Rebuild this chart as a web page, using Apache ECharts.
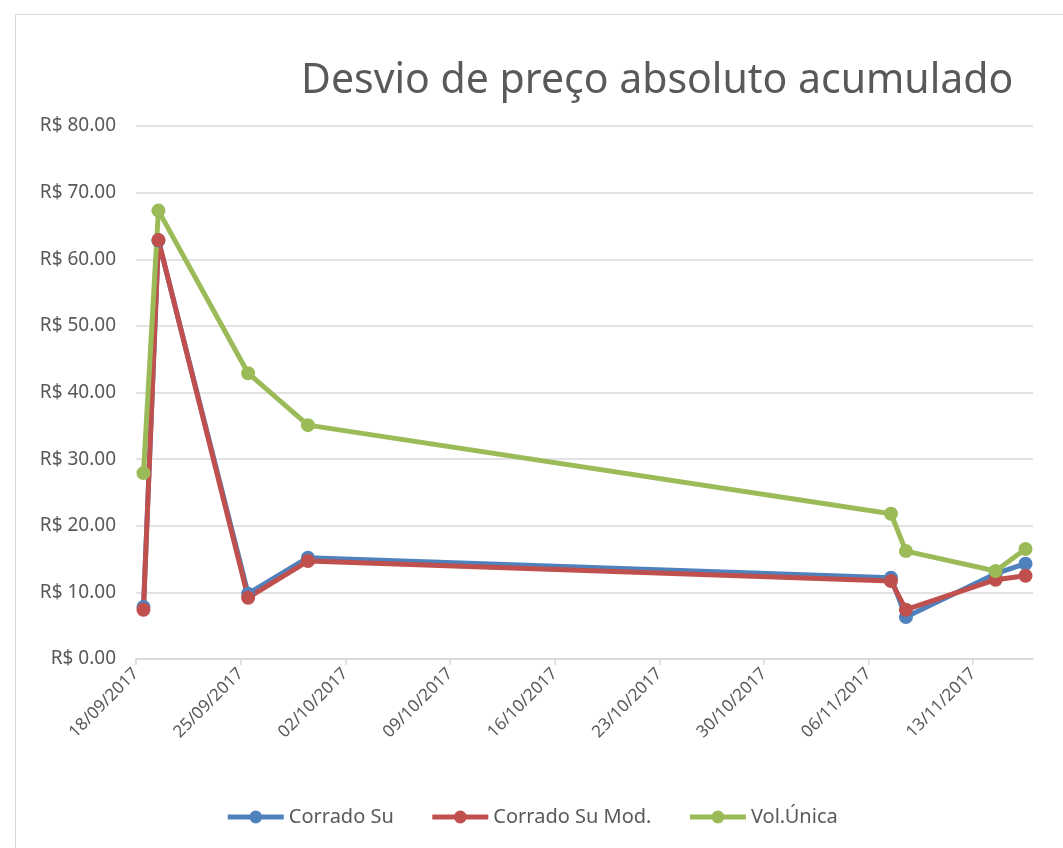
<!DOCTYPE html>
<html>
<head>
<meta charset="utf-8">
<script src="https://cdn.jsdelivr.net/npm/echarts@6/dist/echarts.min.js"></script>
<style>
  html, body { margin: 0; padding: 0; background: #fff; }
  #chart { width: 1063px; height: 848px; }
</style>
</head>
<body>
<div id="chart"></div>
<script>
// datas dos pontos (eixo de datas, um ponto por dia)
const dates = ['2017-09-18', '2017-09-19', '2017-09-25', '2017-09-29',
               '2017-11-07', '2017-11-08', '2017-11-14', '2017-11-16'];
const corradoSu = [7.8, 62.8, 9.8, 15.2, 12.2, 6.3, 12.8, 14.3];
const corradoSuMod = [7.4, 62.9, 9.2, 14.7, 11.7, 7.4, 11.9, 12.5];
const volUnica = [27.9, 67.3, 42.9, 35.1, 21.8, 16.2, 13.2, 16.5];
const tickDays = [0, 7, 14, 21, 28, 35, 42, 49, 56];

const baseDate = Date.UTC(2017, 8, 18);
const DAY = 86400000;

function dayIndex(s) {
    const p = s.split('-');
    return Math.round((Date.UTC(+p[0], +p[1] - 1, +p[2]) - baseDate) / DAY);
}
function dayLabel(v) {
    const d = new Date(baseDate + v * DAY);
    const dd = String(d.getUTCDate()).padStart(2, '0');
    const mm = String(d.getUTCMonth() + 1).padStart(2, '0');
    return dd + '/' + mm + '/' + d.getUTCFullYear();
}
// o Excel coloca cada ponto no meio do dia
function toPoints(values) {
    return values.map(function (v, i) {
        return [dayIndex(dates[i]) + 0.5, v];
    });
}

const chart = echarts.init(document.getElementById('chart'));
const font = 'Noto Sans';
const textColor = '#595959';

function lineSeries(name, color, values) {
    return {
        name: name,
        type: 'line',
        data: toPoints(values),
        symbol: 'circle',
        symbolSize: 14,
        color: color,
        lineStyle: { width: 5, color: color },
        itemStyle: { color: color }
    };
}

const option = {
    animation: false,
    title: {
        text: 'Desvio de preço absoluto acumulado',
        left: 296,
        top: 56,
        textStyle: { fontFamily: font, fontSize: 41, fontWeight: 'normal', color: textColor }
    },
    graphic: [{
        type: 'rect',
        shape: { x: 15.5, y: 14.5, width: 1200, height: 1000 },
        style: { fill: null, stroke: '#d9d9d9', lineWidth: 1 },
        silent: true
    }],
    legend: {
        bottom: 16,
        left: 'center',
        itemWidth: 56,
        itemHeight: 16,
        itemGap: 36,
        lineStyle: { width: 5 },
        textStyle: { fontFamily: font, fontSize: 20, color: textColor },
        data: ['Corrado Su', 'Corrado Su Mod.', 'Vol.Única']
    },
    grid: { left: 136, right: 30, top: 126, bottom: 189, containLabel: false },
    xAxis: {
        type: 'value',
        min: 0,
        max: 60,
        interval: 7,
        axisLine: { show: true, lineStyle: { color: '#d9d9d9', width: 1.5 } },
        axisTick: { show: true, length: 6, customValues: tickDays, lineStyle: { color: '#d9d9d9', width: 1.5 } },
        splitLine: { show: false },
        axisLabel: {
            customValues: tickDays,
            rotate: 45,
            margin: 12,
            fontFamily: font,
            fontSize: 17,
            color: textColor,
            formatter: function (v) { return dayLabel(v); }
        }
    },
    yAxis: {
        type: 'value',
        min: 0,
        max: 80,
        interval: 10,
        axisLine: { show: false },
        axisTick: { show: false },
        splitLine: { lineStyle: { color: '#d9d9d9', width: 1.5 } },
        axisLabel: {
            margin: 20,
            fontFamily: font,
            fontSize: 19,
            color: textColor,
            formatter: function (v) { return 'R$ ' + v.toFixed(2); }
        }
    },
    series: [
        lineSeries('Corrado Su', '#4f81bd', corradoSu),
        lineSeries('Corrado Su Mod.', '#c0504d', corradoSuMod),
        lineSeries('Vol.Única', '#9bbb59', volUnica)
    ]
};

chart.setOption(option);
</script>
</body>
</html>
